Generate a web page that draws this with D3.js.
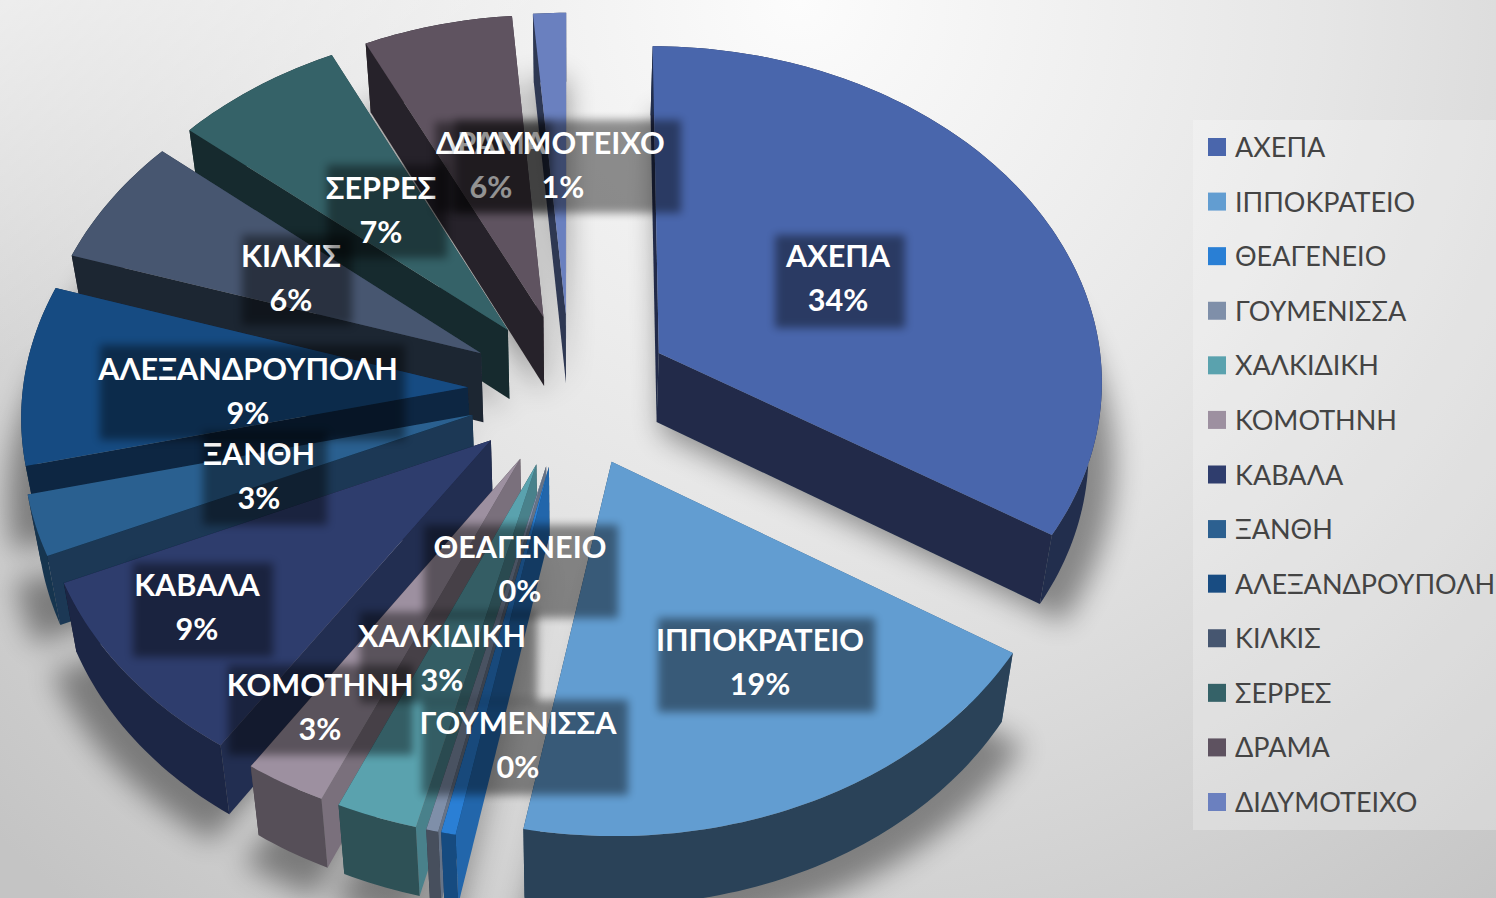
<!DOCTYPE html>
<html><head><meta charset="utf-8">
<script src="https://cdn.jsdelivr.net/npm/d3@7/dist/d3.min.js"></script>
<style>
html,body{margin:0;padding:0;background:#fff;overflow:hidden}
svg{display:block}
</style></head><body>
<svg id="chart" width="1496" height="898"></svg>
<script>
// ---------- data ----------
const categories = ["ΑΧΕΠΑ","ΙΠΠΟΚΡΑΤΕΙΟ","ΘΕΑΓΕΝΕΙΟ","ΓΟΥΜΕΝΙΣΣΑ","ΧΑΛΚΙΔΙΚΗ","ΚΟΜΟΤΗΝΗ","ΚΑΒΑΛΑ","ΞΑΝΘΗ","ΑΛΕΞΑΝΔΡΟΥΠΟΛΗ","ΚΙΛΚΙΣ","ΣΕΡΡΕΣ","ΔΡΑΜΑ","ΔΙΔΥΜΟΤΕΙΧΟ"];
const values = [33.9,19.1,0.48,0.4,2.7,2.72,9.08,2.9,8.62,6.2,6.7,5.9,1.3];
const percentLabels = ["34%","19%","0%","0%","3%","3%","9%","3%","9%","6%","7%","6%","1%"];
const colors = ["#4a66ac","#629dd1","#297fd5","#7f8fa9","#5aa2ae","#9d90a0","#2f3d6d","#2c6090","#184c82","#465670","#356268","#5e5260","#6b80bf"];

// ---------- layout (not data) ----------
const W=1496,H=898;
const geo={cx:570,cy:390,A:445,B:335,p:0.075,explode:0.23,depth:69,converge:0.025};
const paintOrder=[12,11,10,9,8,7,6,5,4,3,2,1,0];
const outerShade=[0.45,0.42,0.6,0.55,0.5,0.55,0.62,0.55,0.45,0.45,0.45,0.45,0.45];
// label centre x, first baseline y, box left/right/top/bottom  (same order as categories)
const labelLayout=[
 [838,267,775,905,235,328],[760,651,658,875,618,712],[520,558,424,618,525,618],[518,734,422,628,700,795],
 [442,647,360,537,612,703],[320,696,228,413,665,755],[197,596,133,273,563,657],[259,465,203,327,432,525],
 [248,380,100,405,345,440],[291,267,242,352,235,325],[381,199,327,447,165,258],[491,154,435,552,122,212],[559,154,455,681,120,213]];

const svg=d3.select("#chart");
const defs=svg.append("defs");
const bg=defs.append("radialGradient").attr("id","bg").attr("gradientUnits","userSpaceOnUse")
  .attr("cx",800).attr("cy",0).attr("r",1160);
[[0,"#fcfcfc"],[0.45,"#e6e6e6"],[0.75,"#d4d4d4"],[1,"#c4c4c4"]].forEach(s=>bg.append("stop").attr("offset",s[0]).attr("stop-color",s[1]));
const corner=defs.append("linearGradient").attr("id","corner").attr("gradientUnits","userSpaceOnUse")
  .attr("x1",0).attr("y1",0).attr("x2",170).attr("y2",260);
[[0,0.55],[1,0]].forEach(s=>corner.append("stop").attr("offset",s[0]).attr("stop-color","#fff").attr("stop-opacity",s[1]));
const blur=(id,s)=>defs.append("filter").attr("id",id).attr("x","-30%").attr("y","-30%").attr("width","160%").attr("height","160%")
  .append("feGaussianBlur").attr("stdDeviation",s);
blur("shadowBlur",14);blur("boxBlur",4);blur("soft",0.5);

svg.append("rect").attr("width",W).attr("height",H).attr("fill","url(#bg)");
svg.append("rect").attr("width",W).attr("height",H).attr("fill","url(#corner)");

// projection of the exploded, tilted disc
const project=(u,v)=>{const w=1+geo.p*v;return [geo.cx+geo.A*u/w,geo.cy-geo.B*v/w];};
const lower=([x,y])=>[x+(geo.cx-x)*geo.converge,y+geo.depth];
const line=d3.line().curve(d3.curveLinearClosed);
const slices=d3.pie().value(d=>d).sort(null)(values);

function sliceGeom(s){
  const mid=(s.startAngle+s.endAngle)/2;
  const ou=geo.explode*Math.sin(mid),ov=geo.explode*Math.cos(mid);
  const n=Math.max(4,Math.ceil((s.endAngle-s.startAngle)*50));
  const angles=d3.range(n+1).map(i=>s.startAngle+(s.endAngle-s.startAngle)*i/n);
  const rim=angles.map(a=>project(ou+Math.sin(a),ov+Math.cos(a)));
  const apex=project(ou,ov);
  return {apex,rim};
}
const shade=(c,f)=>{const k=d3.rgb(c);return d3.rgb(k.r*f,k.g*f,k.b*f).formatHex();};

// shadow
const shadow=svg.append("g").attr("filter","url(#shadowBlur)").attr("opacity",0.4);
slices.forEach(s=>{const g=sliceGeom(s);
  const pts=[g.apex,...g.rim].map(lower).map(([x,y])=>[x+(x-geo.cx)*0.05,y+(y-geo.cy)*0.04+10]);
  shadow.append("path").attr("d",line(pts)).attr("fill","#000");
});

// slices
const pieG=svg.append("g").attr("filter","url(#soft)");
paintOrder.forEach(i=>{
  const s=slices[i],g=sliceGeom(s),c=colors[i],G=pieG.append("g");
  const sa=s.startAngle,ea=s.endAngle;
  const nStart=Math.max(0,-Math.cos(sa)),nEnd=Math.max(0,Math.cos(ea));
  const walls=[
    {pts:[g.apex,g.rim[0],lower(g.rim[0]),lower(g.apex)],f:0.43+0.38*nStart},
    {pts:[g.apex,g.rim[g.rim.length-1],lower(g.rim[g.rim.length-1]),lower(g.apex)],f:0.43+0.38*nEnd},
    {pts:[...g.rim,...g.rim.map(lower).reverse()],f:outerShade[i]}
  ];
  walls.sort((a,b)=>d3.mean(a.pts,p=>p[1])-d3.mean(b.pts,p=>p[1]));
  walls.forEach(w=>G.append("path").attr("d",line(w.pts)).attr("fill",shade(c,w.f)));
  G.append("path").attr("d",line([g.apex,...g.rim])).attr("fill",c);
});

// data labels
const labelG=svg.append("g");
categories.forEach((name,i)=>{
  const [x,y,l,r,t,b]=labelLayout[i];
  labelG.append("rect").attr("x",l).attr("y",t).attr("width",r-l).attr("height",b-t)
    .attr("fill","#000").attr("opacity",0.42).attr("filter","url(#boxBlur)");
  const T=labelG.append("g").attr("font-family","Lato, 'Open Sans', sans-serif").attr("font-weight",700)
    .attr("font-size",30.6).attr("fill","#fff").attr("text-anchor","middle");
  T.append("text").attr("x",x).attr("y",y).text(name);
  T.append("text").attr("x",x+(i===12?4:0)).attr("y",y+44).text(percentLabels[i]);
});

// legend
const legend=svg.append("g");
legend.append("rect").attr("x",1193).attr("y",120).attr("width",303).attr("height",710).attr("fill","#fff").attr("opacity",0.24);
const ly=d3.scalePoint().domain(categories).range([147,802]);
categories.forEach((c,i)=>{
  legend.append("rect").attr("x",1208).attr("y",ly(c)-9).attr("width",18).attr("height",18).attr("fill",colors[i]);
  legend.append("text").attr("x",1235).attr("y",ly(c)+10).attr("font-family","Lato, 'Open Sans', sans-serif")
    .attr("font-size",27).attr("fill","#444").text(c);
});
</script>
</body></html>
